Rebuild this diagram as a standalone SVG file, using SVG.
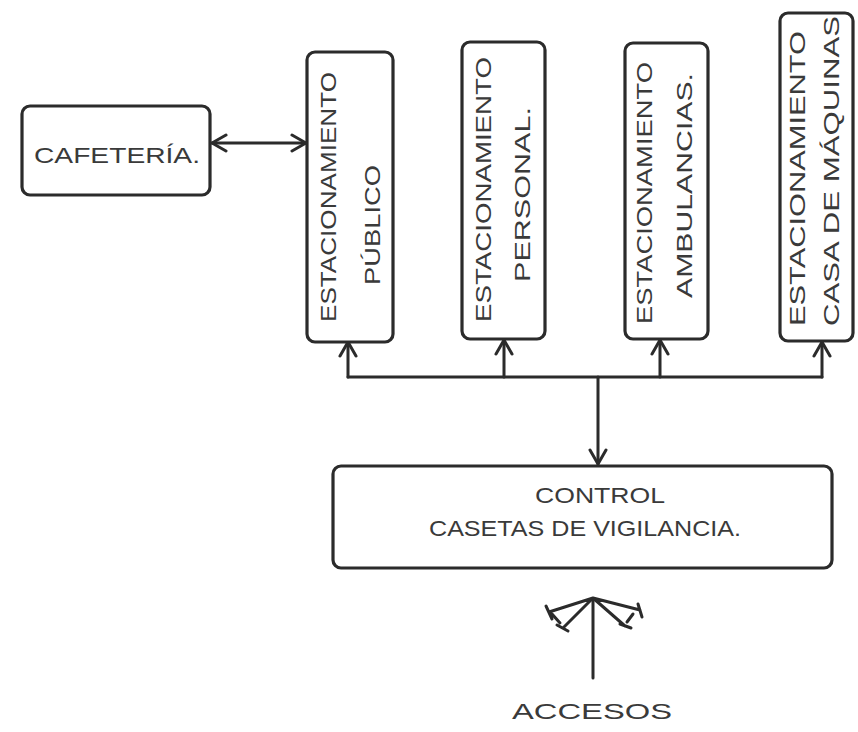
<svg xmlns="http://www.w3.org/2000/svg" width="858" height="732" viewBox="0 0 858 732">
<style>
.box{fill:#fff;stroke:#2b2b2b;stroke-width:3.2;stroke-linejoin:round}
.ln{fill:none;stroke:#2b2b2b;stroke-width:3;stroke-linecap:round;stroke-linejoin:round}
.t{font-family:"Liberation Sans",Arial,sans-serif;fill:#3a3a3a;font-size:22px;font-weight:normal}
</style>
<defs>
<marker id="ah" viewBox="0 0 20 20" refX="18" refY="10" markerWidth="20" markerHeight="20" markerUnits="userSpaceOnUse" orient="auto-start-reverse">
<path d="M4 2 L18 10 L4 18" fill="none" stroke="#2b2b2b" stroke-width="3" stroke-linecap="round"/>
</marker>
</defs>
<rect width="858" height="732" fill="#fff"/>
<g id="connectors">
<path class="ln" d="M212 143 L306 143" marker-start="url(#ah)" marker-end="url(#ah)"/>
<path class="ln" d="M348 377 L822 377"/>
<path class="ln" d="M348 377 L348 342" marker-end="url(#ah)"/>
<path class="ln" d="M504 377 L504 340" marker-end="url(#ah)"/>
<path class="ln" d="M660 377 L660 340" marker-end="url(#ah)"/>
<path class="ln" d="M822 377 L822 342" marker-end="url(#ah)"/>
<path class="ln" d="M598 377 L598 464" marker-end="url(#ah)"/>
<path class="ln" d="M593 678 L593 600"/>
<path class="ln" d="M593 598 L549 612 M593 598 L563 628 M546 606 L552 619 M557 625 L568 631 M552 614 L560 623 M593 598 L640 610 M593 598 L625 626 M638 604 L642 617 M620 624 L631 628 M633 614 L627 622"/>
</g>
<g id="cafeteria">
<rect class="box" x="22" y="106" width="188" height="89" rx="8"/>
<text class="t" x="34" y="163" font-size="21" textLength="166" lengthAdjust="spacingAndGlyphs">CAFETERÍA.</text>
</g>
<g id="est-publico">
<rect class="box" x="307" y="52" width="86" height="290" rx="8"/>
<text class="t" transform="translate(336,322) rotate(-90)" textLength="250" lengthAdjust="spacingAndGlyphs">ESTACIONAMIENTO</text>
<text class="t" transform="translate(380,285) rotate(-90)" textLength="120" lengthAdjust="spacingAndGlyphs">PÚBLICO</text>
</g>
<g id="est-personal">
<rect class="box" x="462" y="42" width="83" height="297" rx="8"/>
<text class="t" transform="translate(491,322) rotate(-90)" textLength="265" lengthAdjust="spacingAndGlyphs">ESTACIONAMIENTO</text>
<text class="t" transform="translate(530,282) rotate(-90)" textLength="175" lengthAdjust="spacingAndGlyphs">PERSONAL.</text>
</g>
<g id="est-ambulancias">
<rect class="box" x="625" y="43" width="83" height="296" rx="8"/>
<text class="t" transform="translate(652,324) rotate(-90)" textLength="262" lengthAdjust="spacingAndGlyphs">ESTACIONAMIENTO</text>
<text class="t" transform="translate(692,298) rotate(-90)" textLength="225" lengthAdjust="spacingAndGlyphs">AMBULANCIAS.</text>
</g>
<g id="est-maquinas">
<rect class="box" x="780" y="13" width="73" height="328" rx="8"/>
<text class="t" transform="translate(805,326) rotate(-90)" font-size="20" textLength="295" lengthAdjust="spacingAndGlyphs">ESTACIONAMIENTO</text>
<text class="t" transform="translate(839,326) rotate(-90)" font-size="20" textLength="310" lengthAdjust="spacingAndGlyphs">CASA DE MÁQUINAS</text>
</g>
<g id="control">
<rect class="box" x="333" y="466" width="499" height="102" rx="8"/>
<text class="t" x="600" y="503" text-anchor="middle" font-size="21" textLength="130" lengthAdjust="spacingAndGlyphs">CONTROL</text>
<text class="t" x="585" y="536" text-anchor="middle" font-size="23" textLength="312" lengthAdjust="spacingAndGlyphs">CASETAS DE VIGILANCIA.</text>
</g>
<g id="accesos">
<text class="t" x="592" y="719" text-anchor="middle" font-size="34" textLength="160" lengthAdjust="spacingAndGlyphs">ACCESOS</text>
</g>
</svg>
